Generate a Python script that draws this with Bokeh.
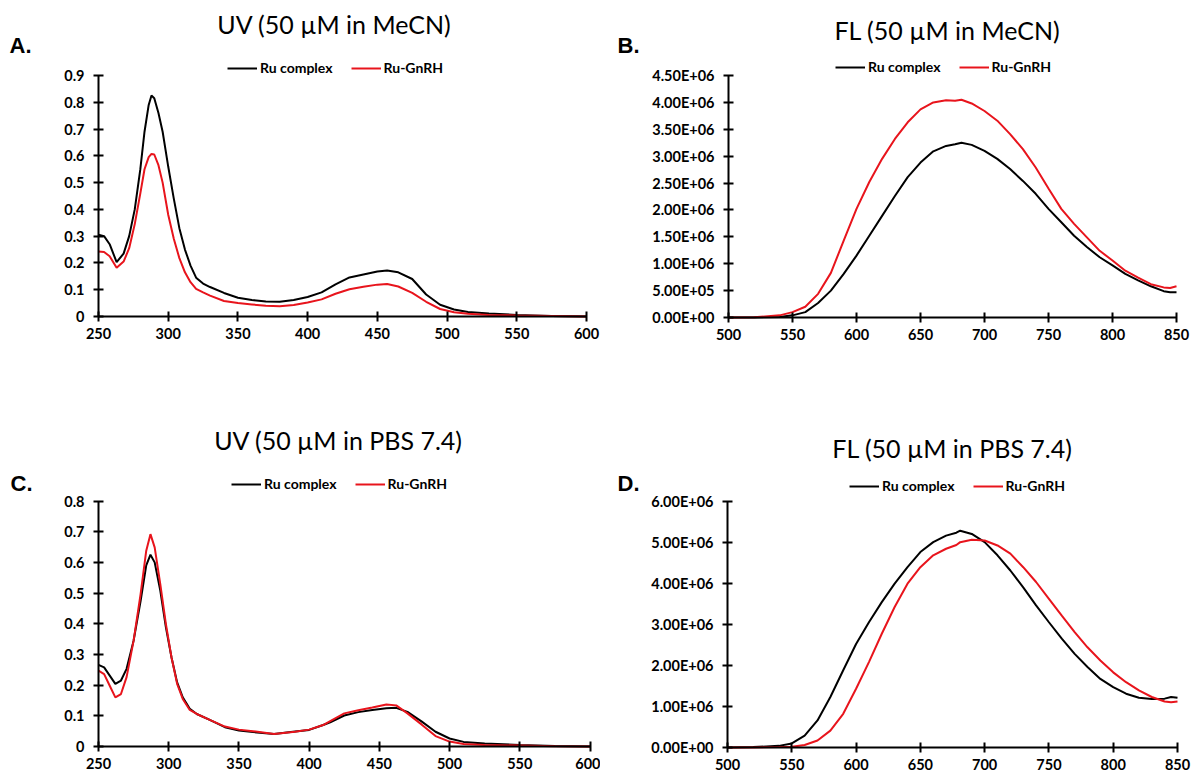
from bokeh.plotting import figure
from bokeh.models import Range1d, FixedTicker, CustomJSTickFormatter, Label, LinearAxis
from bokeh.layouts import column, row
from bokeh.embed import file_html
from bokeh.resources import INLINE

# ---------------- data ----------------
SERIES = ["Ru complex", "Ru-GnRH"]

# A: UV in MeCN
A_nm = [250, 254, 258, 263, 268, 272, 276, 280, 283, 286, 288, 290,
        293, 296, 300, 304, 308, 312, 316, 320, 325, 330,
        340, 350, 360, 370, 380, 390, 400, 410, 420, 430, 440, 450,
        457, 465, 475, 485, 495, 505, 515, 530, 550, 575, 600]
A_ru = [0.305, 0.300, 0.270, 0.203, 0.235, 0.300, 0.400, 0.550, 0.690, 0.790, 0.825, 0.815,
        0.760, 0.690, 0.560, 0.440, 0.330, 0.250, 0.190, 0.145, 0.123, 0.110,
        0.088, 0.070, 0.062, 0.056, 0.055, 0.062, 0.073, 0.090, 0.120, 0.146, 0.157, 0.168,
        0.172, 0.165, 0.140, 0.082, 0.044, 0.026, 0.017, 0.011, 0.006, 0.002, 0.0]
A_gn = [0.243, 0.241, 0.225, 0.182, 0.205, 0.255, 0.345, 0.460, 0.550, 0.595, 0.607, 0.605,
        0.565, 0.500, 0.380, 0.290, 0.218, 0.165, 0.128, 0.103, 0.090, 0.078,
        0.058, 0.050, 0.045, 0.040, 0.038, 0.043, 0.052, 0.064, 0.085, 0.102, 0.111, 0.119,
        0.121, 0.112, 0.088, 0.055, 0.028, 0.016, 0.010, 0.006, 0.004, 0.002, 0.0]

# B: FL in MeCN
B_nm = [500, 520, 540, 550, 560, 570, 580, 590, 600, 610, 620, 630, 640, 650, 660, 670,
        677, 682, 690, 700, 710, 720, 730, 740, 750, 760, 770, 780, 790, 800, 810, 820,
        830, 840, 845, 850]
B_ru = [0.0, 0.0, 1.0e4, 4.0e4, 1.0e5, 2.7e5, 5.0e5, 8.1e5, 1.15e6, 1.52e6, 1.89e6, 2.26e6,
        2.61e6, 2.88e6, 3.09e6, 3.19e6, 3.22e6, 3.25e6, 3.21e6, 3.10e6, 2.95e6, 2.76e6,
        2.54e6, 2.30e6, 2.02e6, 1.77e6, 1.52e6, 1.31e6, 1.12e6, 9.7e5, 8.1e5, 6.9e5,
        5.8e5, 4.9e5, 4.7e5, 4.7e5]
B_gn = [0.0, 5.0e3, 4.0e4, 1.0e5, 2.0e5, 4.4e5, 8.3e5, 1.43e6, 2.02e6, 2.52e6, 2.95e6, 3.32e6,
        3.63e6, 3.87e6, 4.00e6, 4.04e6, 4.03e6, 4.05e6, 3.98e6, 3.84e6, 3.66e6, 3.41e6,
        3.13e6, 2.79e6, 2.40e6, 2.02e6, 1.74e6, 1.49e6, 1.24e6, 1.06e6, 8.7e5, 7.4e5,
        6.2e5, 5.6e5, 5.5e5, 5.8e5]

# C: UV in PBS 7.4
C_nm = [250, 254, 258, 262, 266, 270, 275, 280, 284, 287, 290, 294, 298, 302, 306, 310,
        315, 320, 330, 340, 350, 360, 375, 390, 400, 410, 415, 425, 435, 445, 455, 462,
        470, 480, 490, 500, 510, 525, 550, 575, 600]
C_ru = [0.266, 0.258, 0.231, 0.204, 0.215, 0.253, 0.345, 0.475, 0.590, 0.625, 0.600, 0.508,
        0.388, 0.290, 0.209, 0.160, 0.123, 0.106, 0.085, 0.063, 0.052, 0.047, 0.041, 0.049,
        0.054, 0.070, 0.079, 0.101, 0.112, 0.119, 0.125, 0.126, 0.113, 0.082, 0.048, 0.026,
        0.015, 0.010, 0.005, 0.002, 0.0]
C_gn = [0.247, 0.236, 0.198, 0.160, 0.171, 0.226, 0.345, 0.497, 0.638, 0.692, 0.649, 0.529,
        0.399, 0.290, 0.204, 0.155, 0.119, 0.106, 0.085, 0.065, 0.055, 0.050, 0.041, 0.048,
        0.055, 0.070, 0.083, 0.108, 0.118, 0.127, 0.137, 0.134, 0.108, 0.072, 0.034, 0.016,
        0.008, 0.005, 0.003, 0.001, 0.0]

# D: FL in PBS 7.4
D_nm = [500, 520, 540, 550, 560, 570, 580, 590, 600, 610, 620, 630, 640, 650, 660, 670,
        678, 681, 690, 700, 710, 720, 730, 740, 750, 760, 770, 780, 790, 800, 810, 820,
        830, 840, 845, 850]
D_ru = [0.0, 1.0e4, 4.0e4, 1.0e5, 2.9e5, 6.6e5, 1.23e6, 1.88e6, 2.52e6, 3.05e6, 3.54e6, 3.99e6,
        4.39e6, 4.76e6, 5.00e6, 5.16e6, 5.23e6, 5.28e6, 5.20e6, 5.00e6, 4.68e6, 4.31e6,
        3.90e6, 3.46e6, 3.05e6, 2.65e6, 2.28e6, 1.96e6, 1.67e6, 1.47e6, 1.31e6, 1.21e6,
        1.18e6, 1.19e6, 1.23e6, 1.21e6]
D_gn = [0.0, 0.0, 1.0e4, 2.0e4, 6.0e4, 1.7e5, 4.1e5, 8.2e5, 1.43e6, 2.08e6, 2.77e6, 3.42e6,
        3.99e6, 4.39e6, 4.68e6, 4.84e6, 4.93e6, 5.00e6, 5.06e6, 5.04e6, 4.92e6, 4.72e6,
        4.39e6, 4.03e6, 3.62e6, 3.21e6, 2.81e6, 2.44e6, 2.12e6, 1.83e6, 1.59e6, 1.39e6,
        1.23e6, 1.12e6, 1.10e6, 1.12e6]

UV_X_TICKS = [250, 300, 350, 400, 450, 500, 550, 600]
FL_X_TICKS = [500, 550, 600, 650, 700, 750, 800, 850]
A_Y_TICKS = [0, 0.1, 0.2, 0.3, 0.4, 0.5, 0.6, 0.7, 0.8, 0.9]
C_Y_TICKS = [0, 0.1, 0.2, 0.3, 0.4, 0.5, 0.6, 0.7, 0.8]
B_Y_TICKS = [0, 5e5, 1e6, 1.5e6, 2e6, 2.5e6, 3e6, 3.5e6, 4e6, 4.5e6]
D_Y_TICKS = [0, 1e6, 2e6, 3e6, 4e6, 5e6, 6e6]

TITLES = ["UV (50 µM in MeCN)", "FL (50 µM in MeCN)",
          "UV (50 µM in PBS 7.4)", "FL (50 µM in PBS 7.4)"]
PANEL_TAGS = ["A.", "B.", "C.", "D."]

# ---------------- style ----------------
BLACK = "#000000"
RED = "#e8141c"
FONT = "Lato"

UV_FMT = 'return tick == 0 ? "0" : tick.toFixed(1);'
FL_FMT = '''
if (tick == 0) { return "0.00E+00"; }
var e = Math.floor(Math.log10(tick) + 1e-9);
var m = tick / Math.pow(10, e);
return m.toFixed(2) + "E+" + (e < 10 ? "0" + e : "" + e);
'''


def span_range(d0, d1, p0, p1, size):
    """Range whose values d0, d1 fall on pixels p0, p1 of a frame `size` px long."""
    s = (p1 - p0) / (d1 - d0)
    return Range1d(d0 - p0 / s, d0 + (size - p0) / s)


def panel(xs, ys_ru, ys_gn, w, h, xlim, ylim, xpix, ypix, xticks, yticks, fmt,
          title, title_xy, tag, tag_xy, legend_xy):
    p = figure(width=w, height=h, min_border=0,
               x_range=span_range(xlim[0], xlim[1], xpix[0], xpix[1], w),
               y_range=span_range(ylim[0], ylim[1], ypix[0], ypix[1], h),
               x_axis_location=None, y_axis_location=None,
               output_backend="svg", toolbar_location=None, tools="")
    p.grid.visible = False
    p.outline_line_color = None
    p.background_fill_color = "white"
    p.border_fill_color = "white"

    p.line(xs, ys_ru, line_color=BLACK, line_width=2, legend_label=SERIES[0])
    p.line(xs, ys_gn, line_color=RED, line_width=2, legend_label=SERIES[1])

    xax = LinearAxis(fixed_location=ylim[0], bounds=xlim, ticker=FixedTicker(ticks=xticks))
    yax = LinearAxis(fixed_location=xlim[0], bounds=ylim, ticker=FixedTicker(ticks=yticks),
                     formatter=CustomJSTickFormatter(code=fmt))
    for ax in (xax, yax):
        ax.axis_line_width = 2
        ax.axis_line_color = "black"
        ax.major_tick_line_width = 2
        ax.major_tick_line_color = "black"
        ax.major_tick_in = 5
        ax.major_tick_out = 5
        ax.minor_tick_line_color = None
        ax.major_label_text_font = FONT
        ax.major_label_text_font_style = "bold"
        ax.major_label_text_font_size = "14.5px"
        ax.major_label_text_color = "black"
    xax.major_label_standoff = 6
    yax.major_label_standoff = 9
    p.add_layout(xax, "below")
    p.add_layout(yax, "left")

    lg = p.legend[0]
    lg.location = legend_xy
    lg.orientation = "horizontal"
    lg.border_line_color = None
    lg.background_fill_alpha = 0
    lg.padding = 0
    lg.margin = 0
    lg.spacing = 18
    lg.glyph_width = 30
    lg.glyph_height = 16
    lg.label_height = 16
    lg.label_standoff = 3
    lg.label_text_font = FONT
    lg.label_text_font_style = "bold"
    lg.label_text_font_size = "14px"
    lg.label_text_color = "black"

    p.add_layout(Label(x=title_xy[0], y=title_xy[1], x_units="screen", y_units="screen",
                       text=title, text_font=FONT, text_font_size="25px",
                       text_align="center", text_baseline="middle", text_color="black"))
    p.add_layout(Label(x=tag_xy[0], y=tag_xy[1], x_units="screen", y_units="screen",
                       text=tag, text_font="Liberation Sans", text_font_style="bold",
                       text_font_size="22px", text_align="left", text_baseline="middle",
                       text_color="black"))
    return p


# figure boxes: A (0,0,600x400)  B (600,0,592x400)  C (0,400,600x375)  D (600,400,592x375)
# pixel positions are local to each figure (x from left, y from bottom)
pA = panel(A_nm, A_ru, A_gn, 600, 400, (250, 600), (0, 0.9), (98, 586), (84, 325),
           UV_X_TICKS, A_Y_TICKS, UV_FMT,
           TITLES[0], (334, 377), PANEL_TAGS[0], (9, 355), (227, 324))
pB = panel(B_nm, B_ru, B_gn, 592, 400, (500, 850), (0, 4.5e6), (128, 576), (83, 325),
           FL_X_TICKS, B_Y_TICKS, FL_FMT,
           TITLES[1], (347, 371), PANEL_TAGS[1], (17, 355), (235, 325))
pC = panel(C_nm, C_ru, C_gn, 600, 375, (250, 600), (0, 0.8), (98, 589.5), (29, 274.5),
           UV_X_TICKS, C_Y_TICKS, UV_FMT,
           TITLES[2], (338, 336), PANEL_TAGS[2], (10, 292), (231, 283))
pD = panel(D_nm, D_ru, D_gn, 592, 375, (500, 850), (0, 6e6), (127, 577), (28, 274.4),
           FL_X_TICKS, D_Y_TICKS, FL_FMT,
           TITLES[3], (352, 328), PANEL_TAGS[3], (17, 292), (249, 281))

layout = column(row(pA, pB), row(pC, pD))

open("out.html", "w", encoding="utf-8").write(file_html(layout, INLINE))
